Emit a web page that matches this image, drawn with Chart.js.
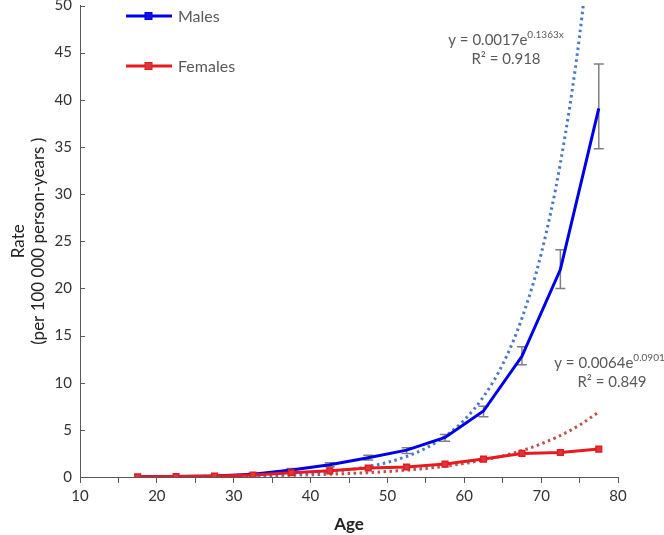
<!DOCTYPE html>
<html><head><meta charset="utf-8">
<script src="https://cdn.jsdelivr.net/npm/chart.js@4/dist/chart.umd.min.js"></script>
<style>html,body{margin:0;padding:0;background:#fff}#wrap{width:664px;height:535px}</style>
</head><body><div id="wrap"><canvas id="c" width="664" height="535"></canvas></div>
<script>
const ages = [17.5,22.5,27.5,32.5,37.5,42.5,47.5,52.5,57.5,62.5,67.5,72.5,77.5];
const males = [0.02,0.04,0.1,0.3,0.75,1.3,2.05,2.85,4.2,7.0,12.8,22.0,39.1];
const malesLow = [null,null,null,0.2,0.6,1.1,1.8,2.5,3.8,6.4,11.9,20.0,34.8];
const malesHigh = [null,null,null,0.4,0.9,1.5,2.3,3.1,4.5,7.5,13.8,24.1,43.8];
const females = [0.03,0.05,0.1,0.2,0.45,0.65,0.95,1.06,1.37,1.9,2.5,2.6,2.96];
const trendAges = [17.5,20,22.5,25,27.5,30,32.5,35,37.5,40,42.5,45,47.5,50,52.5,55,57.5,60,62.5,65,67.5,70,72.5,75,77.5];
const maleTrend = [0.019,0.026,0.037,0.051,0.072,0.10,0.14,0.20,0.28,0.40,0.56,0.78,1.10,1.55,2.18,3.06,4.31,6.05,8.51,11.96,16.83,23.65,33.26,46.76,65.7];
const femaleTrend = [0.031,0.039,0.049,0.061,0.076,0.096,0.12,0.15,0.19,0.235,0.295,0.37,0.46,0.58,0.725,0.91,1.14,1.43,1.79,2.24,2.80,3.51,4.40,5.51,6.90];
const seriesNames = ['Males','Females'];
const xTicks = [10,20,30,40,50,60,70,80];

const FONT = 'Lato, "Open Sans", sans-serif';
const pts = (xs, ys) => xs.map((x,i)=>({x:x,y:ys[i]}));

const errPlugin = {
  id:'err',
  beforeDatasetsDraw(chart){
    const {ctx, scales:{x,y}} = chart;
    ctx.save();
    ctx.strokeStyle = '#7f7f7f'; ctx.lineWidth = 1.5;
    ages.forEach((a,i)=>{
      if (malesLow[i]==null) return;
      const px = x.getPixelForValue(a), lo = y.getPixelForValue(malesLow[i]), hi = y.getPixelForValue(malesHigh[i]);
      ctx.beginPath();
      ctx.moveTo(px,lo); ctx.lineTo(px,hi);
      ctx.moveTo(px-5,lo); ctx.lineTo(px+5,lo);
      ctx.moveTo(px-5,hi); ctx.lineTo(px+5,hi);
      ctx.stroke();
    });
    ctx.restore();
  },
  afterDraw(chart){
    const {ctx, scales:{y}} = chart;
    ctx.save();
    ctx.strokeStyle = '#595959'; ctx.lineWidth = 1;
    y.ticks.forEach(t=>{
      const py = Math.round(y.getPixelForValue(t.value))+0.5;
      ctx.beginPath(); ctx.moveTo(y.right, py); ctx.lineTo(y.right+5, py); ctx.stroke();
    });
    const items = [{n:seriesNames[0], c:'#0000e6', f:'#1010f0', y:16},{n:seriesNames[1], c:'#e8191f', f:'#d63a3a', y:66}];
    items.forEach(it=>{
      ctx.strokeStyle = it.c; ctx.lineWidth = 3;
      ctx.beginPath(); ctx.moveTo(126,it.y); ctx.lineTo(172,it.y); ctx.stroke();
      ctx.fillStyle = it.f; ctx.fillRect(145,it.y-3.5,7,7);
      ctx.strokeStyle = it.c; ctx.lineWidth = 1; ctx.strokeRect(145,it.y-3.5,7,7);
      ctx.fillStyle = '#595959'; ctx.font = '16px '+FONT; ctx.textBaseline='middle'; ctx.textAlign='left';
      ctx.fillText(it.n, 178, it.y+1);
    });
    function eq(cx, y1, a, b, r2){
      ctx.fillStyle = '#595959'; ctx.textBaseline='alphabetic';
      ctx.font = '15px '+FONT;
      const base = 'y = '+a+'e';
      const w1 = ctx.measureText(base).width;
      ctx.font = '10px '+FONT;
      const w2 = ctx.measureText(b+'x').width;
      const x0 = cx - (w1+w2)/2;
      ctx.font = '15px '+FONT; ctx.textAlign='left';
      ctx.fillText(base, x0, y1);
      ctx.font = '10px '+FONT;
      ctx.fillText(b+'x', x0+w1, y1-7);
      ctx.font = '15px '+FONT; ctx.textAlign='center';
      ctx.fillText('R² = '+r2, cx, y1+19);
    }
    eq(506, 45, '0.0017', '0.1363', '0.918');
    eq(612, 368, '0.0064', '0.0901', '0.849');
    ctx.restore();
  }
};

new Chart(document.getElementById('c'), {
  type:'line',
  data:{
    datasets:[
      {label:'Males', data:pts(ages,males), borderColor:'#0000e6', borderWidth:3, pointRadius:0, order:1},
      {label:'Females', data:pts(ages,females), borderColor:'#e8191f', borderWidth:3, pointStyle:'rect', pointRadius:4, pointBackgroundColor:'#d63a3a', pointBorderColor:'#e8191f', pointBorderWidth:1.5, order:0},
      {label:'Males trend', data:pts(trendAges,maleTrend), borderColor:'#4a78c8', borderWidth:3, borderDash:[2.5,3.5], pointRadius:0, cubicInterpolationMode:'monotone', order:2},
      {label:'Females trend', data:pts(trendAges,femaleTrend), borderColor:'#c0504d', borderWidth:3, borderDash:[2.5,3.5], pointRadius:0, cubicInterpolationMode:'monotone', order:3}
    ]
  },
  options:{
    responsive:false, animation:false,
    layout:{padding:{top:4,right:46,left:0,bottom:0}},
    plugins:{legend:{display:false}, tooltip:{enabled:false}},
    scales:{
      x:{type:'linear', min:10, max:80,
        afterFit(s){ s.height = 58; s.paddingRight = 0; s.paddingLeft = 0; },
        afterBuildTicks(s){ s.ticks = [10,15,20,25,30,35,40,45,50,55,60,65,70,75,80].map(v=>({value:v})); },
        ticks:{autoSkip:false, maxRotation:0, color:'#333', font:{family:FONT, size:15}, padding:4,
          callback:(v)=> xTicks.includes(v) ? String(v) : ''},
        grid:{display:true, drawOnChartArea:false, drawTicks:true, tickLength:6, color:'#595959'},
        border:{display:true, color:'#595959', width:1},
        title:{display:true, text:'Age', color:'#222', font:{family:FONT, size:17, weight:'bold'}, padding:{top:2,bottom:0}}
      },
      y:{min:0, max:50,
        afterFit(s){ s.width = 80; s.paddingTop = 0; s.paddingBottom = 0; },
        ticks:{stepSize:5, color:'#333', font:{family:FONT, size:15}, padding:8},
        grid:{display:true, drawOnChartArea:false, drawTicks:false, color:'#595959'},
        border:{display:true, color:'#595959', width:1},
        title:{display:true, text:['Rate','(per 100 000 person-years )'], color:'#222', font:{family:FONT, size:17}, padding:{top:8,bottom:4}}
      }
    }
  },
  plugins:[errPlugin]
});
</script></body></html>
